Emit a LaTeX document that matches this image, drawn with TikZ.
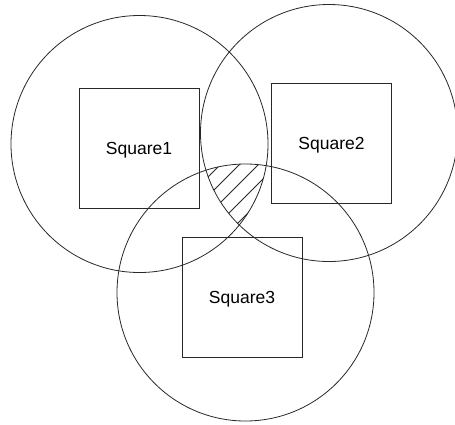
\documentclass[tikz,border=0pt]{standalone}
\usepackage{fontspec}
\setmainfont{Liberation Sans}
\usepackage{xcolor}
\usepackage{tikz}
\usetikzlibrary{
  shapes.geometric,
  positioning
}
\definecolor{LineGray}{RGB}{40, 40, 40}
\tikzset{
    ring/.style={circle, draw=LineGray, line width=0.8pt, minimum size=257pt, inner sep=0pt},
    squarebox/.style={rectangle, draw=LineGray, line width=0.8pt, minimum size=120pt, inner sep=0pt,
        text depth=0pt, font=\fontsize{17.5}{20}\selectfont},
    hatch/.style={draw=LineGray, line width=0.8pt}
}

\begin{document}
\begin{tikzpicture}[x=1pt, y=-1pt]
    \useasboundingbox (0,0) rectangle (455,424);
    % the three circles
    \node[ring] (c1) at (139.5,144) {};
    \node[ring] (c2) at (329,133) {};
    \node[ring] (c3) at (245.5,292.5) {};
    % the squares inside them
    \node[squarebox] (sq1) at (139,148.5) {Square1};
    \node[squarebox] (sq2) at (331.5,143.5) {Square2};
    \node[squarebox] (sq3) at (242,297) {Square3};
    % hatching where all three circles overlap
    \begin{scope}
        \clip (c1.center) circle[radius=128.5pt];
        \clip (c2.center) circle[radius=128.5pt];
        \clip (c3.center) circle[radius=128.5pt];
        \foreach \c in {385,404,...,480}
            \draw[hatch] (150,\c-150) -- (300,\c-300);
    \end{scope}
\end{tikzpicture}
\end{document}
